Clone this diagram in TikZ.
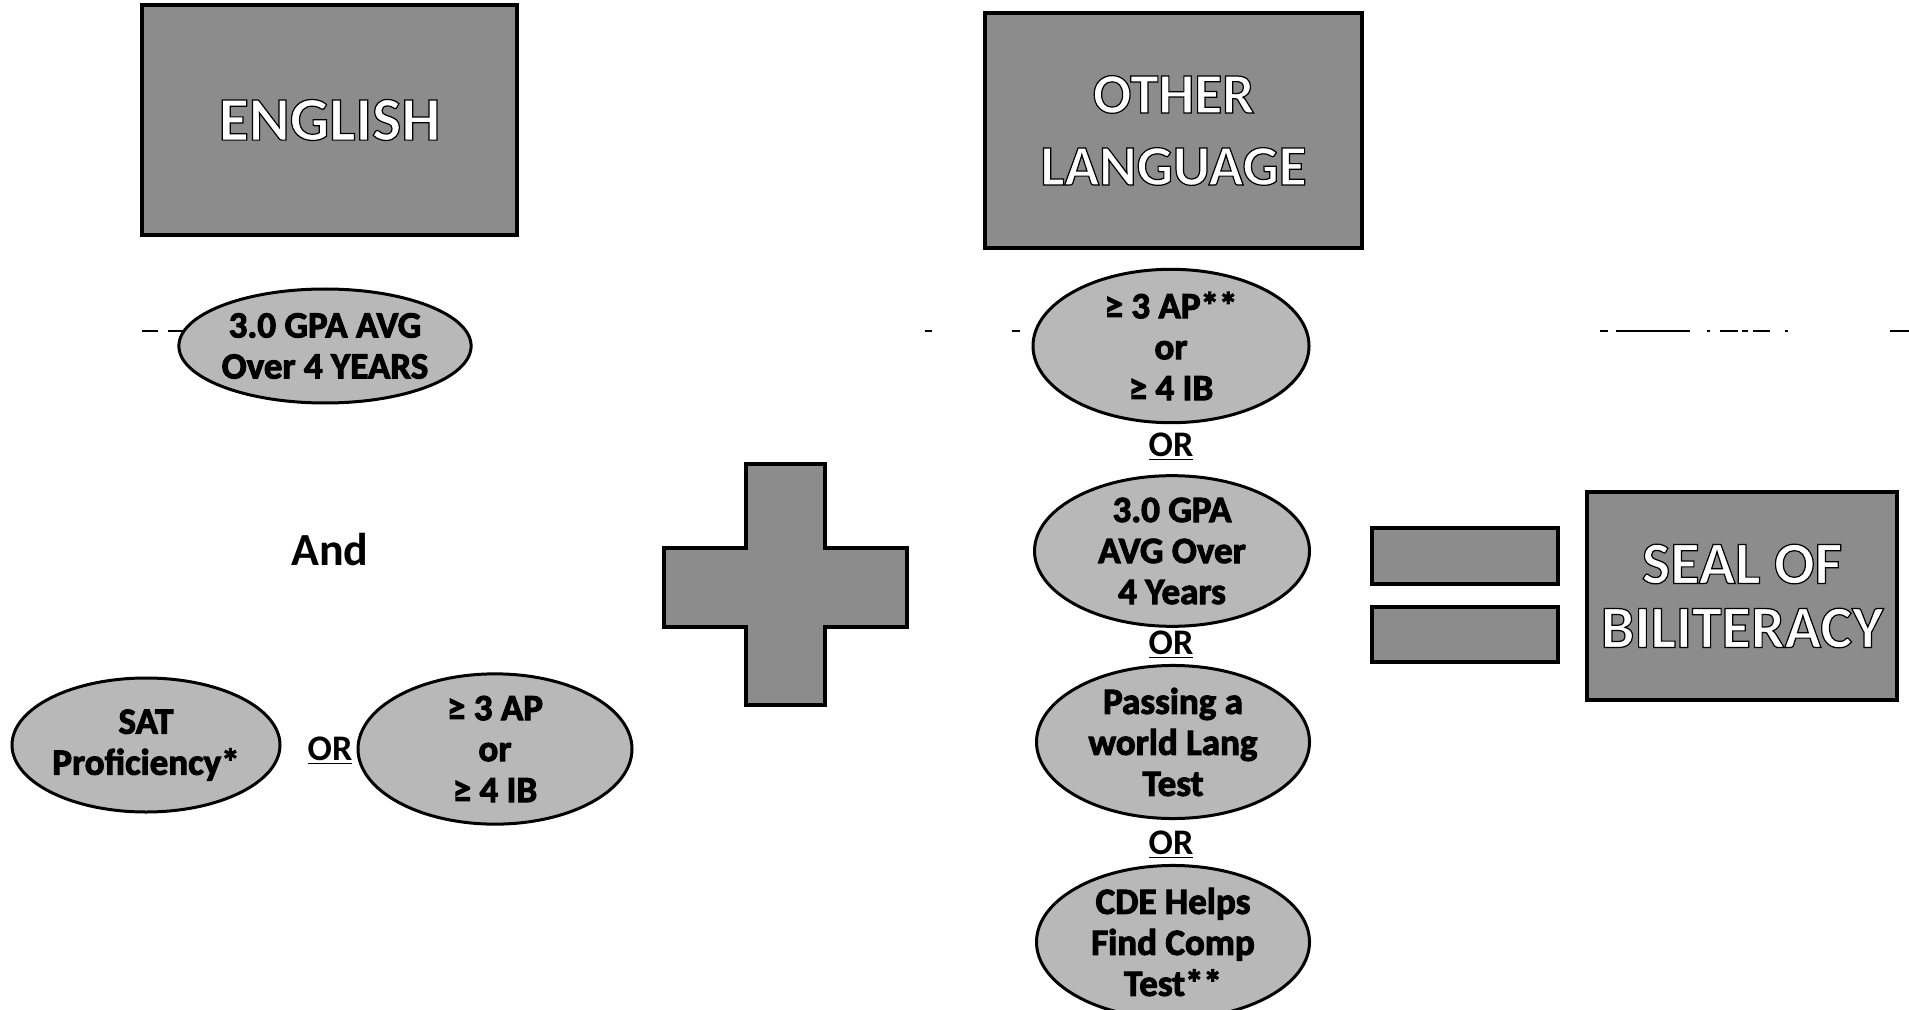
\documentclass[tikz,border=0pt]{standalone}
\usepackage{fontspec}
\setmainfont{Carlito}
\usetikzlibrary{shapes.geometric}

% white letters with a black rim, heavy black letters
\newcommand{\hollow}[1]{\textcolor{white}{\special{pdf:code 0 G 2 Tr 0.6 w}#1\special{pdf:code 0 Tr}}}
\newcommand{\halo}[1]{{\special{pdf:code 0 G 2 Tr 0.5 w}#1\special{pdf:code 0 Tr}}}

\begin{document}
\begin{tikzpicture}[x=0.5pt, y=-0.5pt,
    title/.style={draw=black, line width=2pt, fill=black!45, inner sep=0pt,
      align=center, font=\fontsize{31}{33}\selectfont\bfseries},
    oval/.style={ellipse, draw=black, line width=1.5pt, fill=black!28,
      inner sep=0pt, align=center, font=\fontsize{18.5}{20.5}\selectfont\bfseries},
    bar/.style={draw=black, line width=2pt, fill=black!45},
    ortext/.style={font=\fontsize{18}{20}\selectfont\bfseries}]

  % Fix the page to the reference size
  \useasboundingbox (0,0) rectangle (1909,1010);

  % Left column: English
  \node[title, minimum width=187.5pt, minimum height=115pt] (english) at (329.5,120)
    {\hollow{ENGLISH}};
  \node[oval, minimum width=132pt, minimum height=57pt] (gpa) at (325,346)
    {\halo{3.0 GPA AVG}\\\halo{Over 4 YEARS}};
  \node[font=\fontsize{23}{25}\selectfont\bfseries] (and) at (330,550) {And};
  \node[oval, minimum width=134pt, minimum height=67pt] (sat) at (146,745)
    {\halo{SAT}\\\halo{Proficiency*}};
  \node[ortext] (orleft) at (330,751) {\underline{OR}};
  \node[oval, minimum width=137pt, minimum height=69pt] (apleft) at (495,749)
    {\halo{≥ 3 AP}\\\halo{or}\\\halo{≥ 4 IB}};

  % The plus sign
  \draw[bar] (746,464) -- (825,464) -- (825,548) -- (907,548) -- (907,627)
    -- (825,627) -- (825,705) -- (746,705) -- (746,627) -- (664,627)
    -- (664,548) -- (746,548) -- cycle;

  % Right column: other language
  \node[title, minimum width=188.5pt, minimum height=117.5pt,
    font=\fontsize{28.5}{36}\selectfont\bfseries] (other) at (1173.5,130.5)
    {\hollow{OTHER}\\\hollow{LANGUAGE}};
  \node[oval, minimum width=138pt, minimum height=67.5pt] (apright) at (1171,346)
    {\halo{≥ 3 AP**}\\\halo{or}\\\halo{≥ 4 IB}};
  \node[ortext] (orone) at (1171,447) {\underline{OR}};
  \node[oval, minimum width=137.5pt, minimum height=66.5pt] (gparight) at (1172,551)
    {\halo{3.0 GPA}\\\halo{AVG Over}\\\halo{4 Years}};
  \node[ortext] (ortwo) at (1171,645) {\underline{OR}};
  \node[oval, minimum width=136.5pt, minimum height=67.5pt] (langtest) at (1173,742)
    {\halo{Passing a}\\\halo{world Lang}\\\halo{Test}};
  \node[ortext] (orthree) at (1171,845) {\underline{OR}};
  \node[oval, minimum width=136.5pt, minimum height=69pt] (cde) at (1173,942)
    {\halo{CDE Helps}\\\halo{Find Comp}\\\halo{Test**}};

  % The equals sign
  \draw[bar] (1372,528) rectangle (1558,584);
  \draw[bar] (1372,607) rectangle (1558,662);

  % Result
  \node[title, minimum width=155pt, minimum height=104pt,
    font=\fontsize{30}{32}\selectfont\bfseries] (seal) at (1742,596)
    {\hollow{SEAL OF}\\\hollow{BILITERACY}};

  % Broken rule across the top row
  \foreach \a/\b in {142/158, 168/185, 925/932, 1012/1020, 1600/1608, 1616/1670,
    1670/1690, 1707/1710, 1720/1738, 1742/1748, 1753/1770, 1785/1788, 1890/1909}
    \draw[line width=1pt] (\a,331) -- (\b,331);
\end{tikzpicture}
\end{document}
